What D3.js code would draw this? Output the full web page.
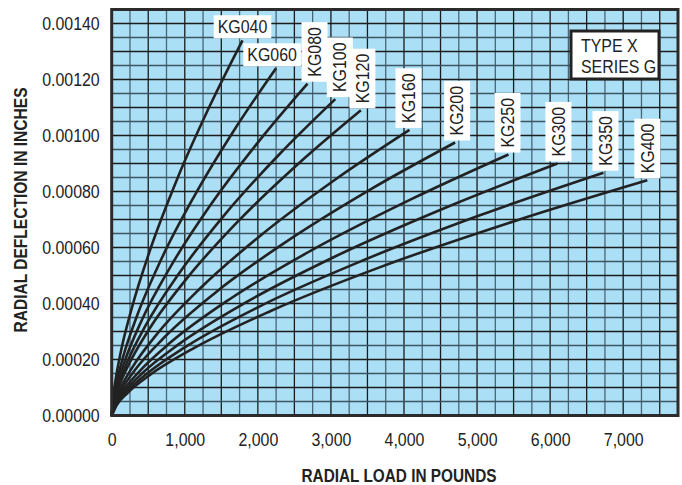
<!DOCTYPE html>
<html><head><meta charset="utf-8">
<script src="https://cdn.jsdelivr.net/npm/d3@7"></script>
<style>
body{margin:0;background:#fff}
svg text{font-family:"Liberation Sans",Arial,sans-serif;fill:#222}
</style>
</head><body>
<svg id="chart" width="682" height="485"></svg>
<script>
// ---- data ----
const seriesNames = ["KG040","KG060","KG080","KG100","KG120","KG160","KG200","KG250","KG300","KG350","KG400"];
const labelVertical = [false,false,true,true,true,true,true,true,true,true,true];

const kg040Load = [0, 18, 54, 125, 269, 537, 895, 1343, 1790];
const kg040Defl = [0, 0.0000622, 0.000129, 0.000228, 0.000378, 0.000600, 0.000844, 0.001106, 0.00134];
const kg060Load = [0, 22, 68, 158, 338, 675, 1125, 1688, 2250];
const kg060Defl = [0, 0.0000575, 0.000120, 0.000211, 0.000350, 0.000556, 0.000781, 0.001024, 0.00124];
const kg080Load = [0, 27, 80, 188, 402, 804, 1340, 2010, 2680];
const kg080Defl = [0, 0.000055, 0.000114, 0.000201, 0.000335, 0.000531, 0.000747, 0.000978, 0.001185];
const kg100Load = [0, 31, 92, 214, 459, 918, 1530, 2295, 3060];
const kg100Defl = [0, 0.0000524, 0.000109, 0.000192, 0.000319, 0.000506, 0.000712, 0.000933, 0.00113];
const kg120Load = [0, 34, 102, 239, 512, 1023, 1705, 2558, 3410];
const kg120Defl = [0, 0.0000506, 0.000105, 0.000185, 0.000308, 0.000488, 0.000687, 0.000900, 0.00109];
const kg160Load = [0, 41, 122, 285, 611, 1223, 2038, 3056, 4075];
const kg160Defl = [0, 0.0000473, 0.0000984, 0.000173, 0.000288, 0.000457, 0.000643, 0.000842, 0.00102];
const kg200Load = [0, 47, 141, 329, 705, 1410, 2350, 3525, 4700];
const kg200Defl = [0, 0.0000452, 0.0000941, 0.000166, 0.000275, 0.000437, 0.000614, 0.000805, 0.000975];
const kg250Load = [0, 54, 163, 380, 815, 1629, 2715, 4073, 5430];
const kg250Defl = [0, 0.0000432, 0.0000899, 0.000158, 0.000263, 0.000418, 0.000587, 0.000769, 0.000932];
const kg300Load = [0, 61, 183, 427, 915, 1830, 3050, 4575, 6100];
const kg300Defl = [0, 0.0000418, 0.0000869, 0.000153, 0.000254, 0.000403, 0.000567, 0.000743, 0.0009];
const kg350Load = [0, 67, 202, 471, 1010, 2019, 3365, 5048, 6730];
const kg350Defl = [0, 0.0000402, 0.0000837, 0.000147, 0.000245, 0.000389, 0.000546, 0.000716, 0.000867];
const kg400Load = [0, 73, 220, 513, 1100, 2199, 3665, 5498, 7330];
const kg400Defl = [0, 0.000039, 0.0000811, 0.000143, 0.000237, 0.000376, 0.000529, 0.000693, 0.00084];

const xTicks = [0, 1000, 2000, 3000, 4000, 5000, 6000, 7000];
const yTicks = [0, 0.0002, 0.0004, 0.0006, 0.0008, 0.0010, 0.0012, 0.0014];
const xTitle = "RADIAL LOAD IN POUNDS";
const yTitle = "RADIAL DEFLECTION IN INCHES";
const boxLines = ["TYPE X", "SERIES G"];

const loads = [kg040Load,kg060Load,kg080Load,kg100Load,kg120Load,kg160Load,kg200Load,kg250Load,kg300Load,kg350Load,kg400Load];
const defls = [kg040Defl,kg060Defl,kg080Defl,kg100Defl,kg120Defl,kg160Defl,kg200Defl,kg250Defl,kg300Defl,kg350Defl,kg400Defl];
const series = seriesNames.map((n,i)=>({name:n, vertical:labelVertical[i],
  pts: loads[i].map((x,j)=>({x, y: defls[i][j]}))}));

// layout: horizontal nudge (px) of a label box from its curve end
const labelNudge = {KG040:0, KG060:-4, KG080:7, KG100:4.5, KG120:1.5, KG160:-1, KG200:2, KG250:-1, KG300:1, KG350:2, KG400:0};

// condense text horizontally (reference uses a condensed face)
function squeeze(sel, f){
  sel.each(function(){
    const w = this.getComputedTextLength();
    d3.select(this).attr("textLength", w*f).attr("lengthAdjust","spacingAndGlyphs");
  });
}
const SQ = 0.91;

// ---- layout ----
const svg = d3.select("#chart");
const L = 111.7, R = 678, T = 9.5, B = 415.5;
const x = d3.scaleLinear().domain([0, 7750]).range([L, R]);
const y = d3.scaleLinear().domain([0, 0.00145]).range([B, T]);

svg.append("rect").attr("x",L).attr("y",T).attr("width",R-L).attr("height",B-T).attr("fill","#abdff6");

// grid
const gx = d3.range(250, 7750, 250);
const gy = d3.range(1, 29).map(i => i*0.00005);
svg.append("g").selectAll("line").data(gx).join("line")
  .attr("x1",d=>x(d)).attr("x2",d=>x(d)).attr("y1",T).attr("y2",B)
  .attr("stroke",(d,i)=> i%2===0 ? "#4a6676" : "#1c1c1c").attr("stroke-width",1.3);
svg.append("g").selectAll("line").data(gy).join("line")
  .attr("y1",d=>y(d)).attr("y2",d=>y(d)).attr("x1",L).attr("x2",R)
  .attr("stroke",(d,i)=> i%2===0 ? "#3c5562" : "#1c1c1c").attr("stroke-width",1.3);

// curves
const line = d3.line().x(d=>x(d.x)).y(d=>y(d.y)).curve(d3.curveMonotoneX);
svg.append("g").selectAll("path").data(series).join("path")
  .attr("d",d=>line(d.pts)).attr("fill","none").attr("stroke","#222").attr("stroke-width",2.6);

// labels
const lg = svg.append("g");
series.forEach(s=>{
  const end = s.pts[s.pts.length-1];
  const ex = x(end.x) + labelNudge[s.name], ey = y(end.y);
  const g = lg.append("g");
  const t = g.append("text").text(s.name).attr("font-size",17.5);
  const tw = t.node().getComputedTextLength()*SQ;
  squeeze(t, SQ);
  if(!s.vertical){
    const w = tw + 8, h = 23;
    const bx = ex - w/2, by = ey - 2 - h;
    g.insert("rect","text").attr("x",bx).attr("y",by).attr("width",w).attr("height",h).attr("fill","#fff");
    t.attr("text-anchor","middle").attr("x",ex).attr("y",by+h/2).attr("dy","0.36em");
  } else {
    const h = tw + 10, w = 26;
    const bx = ex - w/2, by = ey - 2 - h;
    g.insert("rect","text").attr("x",bx).attr("y",by).attr("width",w).attr("height",h).attr("fill","#fff");
    t.attr("text-anchor","middle")
     .attr("transform",`translate(${ex},${by+h/2}) rotate(-90)`).attr("dy","0.36em");
  }
});

// frame
svg.append("rect").attr("x",L).attr("y",T).attr("width",R-L).attr("height",B-T)
  .attr("fill","none").attr("stroke","#2b2b2b").attr("stroke-width",3);

// axes
const xa = svg.append("g").attr("transform",`translate(0,${B})`)
  .call(d3.axisBottom(x).tickValues(xTicks).tickFormat(d3.format(",")).tickSize(0).tickPadding(18));
const ya = svg.append("g").attr("transform",`translate(${L},0)`)
  .call(d3.axisLeft(y).tickValues(yTicks).tickFormat(d3.format(".5f")).tickSize(0).tickPadding(12));
[xa,ya].forEach(a=>{ a.select(".domain").remove();
  const t = a.selectAll("text").attr("font-size",17.5).attr("fill","#222")
    .style("font-family",'"Liberation Sans",Arial,sans-serif');
  squeeze(t, SQ); });

// titles
svg.append("text").text(xTitle).attr("x",399).attr("y",482).attr("text-anchor","middle")
  .attr("font-weight","bold").attr("font-size",19).attr("textLength",195).attr("lengthAdjust","spacingAndGlyphs");
svg.append("text").text(yTitle).attr("text-anchor","middle").attr("font-weight","bold").attr("font-size",19)
  .attr("transform","translate(27,210) rotate(-90)").attr("textLength",245).attr("lengthAdjust","spacingAndGlyphs");

// legend box
const bxg = svg.append("g");
bxg.append("rect").attr("x",571).attr("y",31).attr("width",88).attr("height",48)
  .attr("fill","#fff").attr("stroke","#222").attr("stroke-width",3);
boxLines.forEach((s,i)=> squeeze(bxg.append("text").text(s).attr("x",581).attr("y",52+i*21).attr("font-size",17.5), SQ));
</script>
</body></html>
